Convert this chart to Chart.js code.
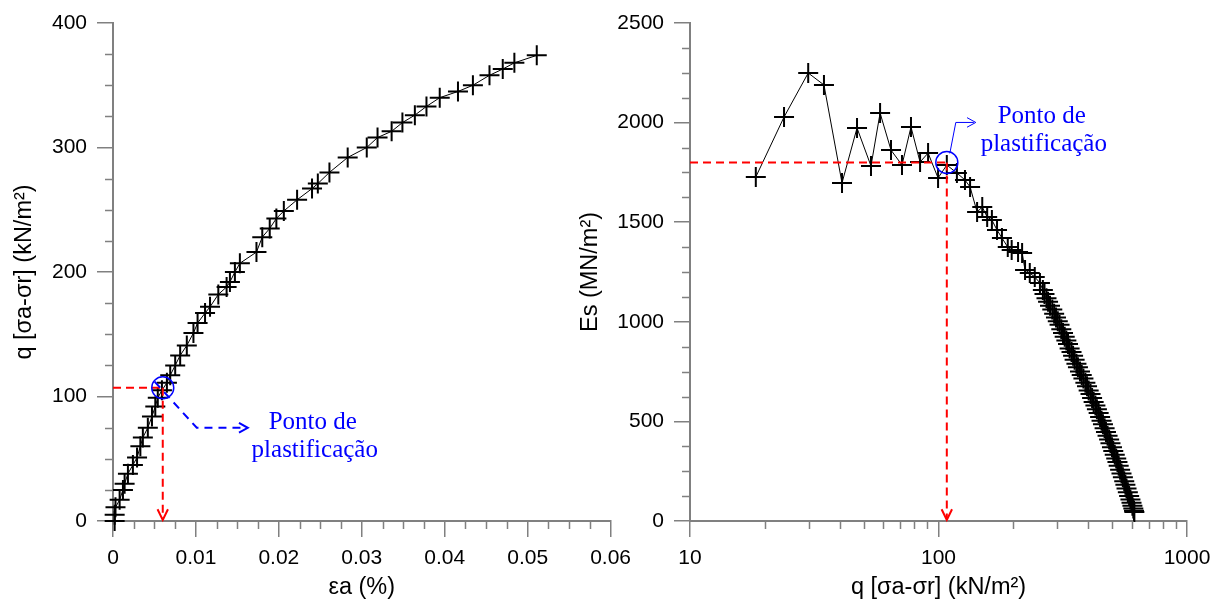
<!DOCTYPE html>
<html>
<head>
<meta charset="utf-8">
<script src="https://cdn.jsdelivr.net/npm/chart.js@4.4.1/dist/chart.umd.min.js"></script>
<style>
  html, body { margin: 0; padding: 0; background: #fff; }
  #wrap { position: relative; width: 1220px; height: 606px; overflow: hidden; }
  canvas { position: absolute; top: 0; }
  #graficoEsq { left: 0; }
  #graficoDir { left: 570px; }
</style>
</head>
<body>
<div id="wrap">
  <canvas id="graficoEsq" width="640" height="606"></canvas>
  <canvas id="graficoDir" width="650" height="606"></canvas>
</div>
<script>
// grafico da esquerda: q x deformacao axial
const epsA = [0.0002, 0.0002, 0.0003, 0.0008, 0.0012, 0.0014, 0.0018, 0.0024, 0.0029, 0.0033,
  0.0036, 0.0042, 0.0047, 0.0051, 0.0054, 0.0059, 0.0065, 0.0069, 0.0075, 0.0081,
  0.0089, 0.0097, 0.0102, 0.0111, 0.0117, 0.0127, 0.0137, 0.0141, 0.0147, 0.0153,
  0.0173, 0.018, 0.0189, 0.0197, 0.0206, 0.0222, 0.024, 0.0247, 0.0261, 0.0283,
  0.0306, 0.0319, 0.0336, 0.0349, 0.0364, 0.0378, 0.0394, 0.0416, 0.0434, 0.0454,
  0.047, 0.0484, 0.0511];
const qEsq = [0, 5, 11, 17, 25, 30, 38, 45, 51, 60,
  67, 75, 84, 92, 99, 105, 111, 117, 125, 133,
  141, 151, 159, 167, 172, 182, 188, 192, 200, 207,
  216, 228, 235, 243, 249, 258, 267, 271, 280, 292,
  300, 308, 313, 320, 326, 333, 340, 345, 350, 358,
  363, 368, 374];

// grafico da direita: Es x q (escala log)
const qDir = [18.4, 23.9, 29.9, 34.6, 40.9, 47.0, 53.5, 58.2, 64.4, 71.3,
  77.5, 84.3, 90.8, 99.6, 108, 118.6, 127.8, 134, 143, 150,
  157, 164, 172, 180, 190, 197, 209, 217, 223, 233,
  244, 256, 263, 267, 272, 276, 281, 287, 292, 297,
  302, 307, 312, 317, 322, 327, 332, 337, 343, 348,
  353, 359, 364, 371, 377, 383, 390, 396, 402, 409,
  415, 421, 428, 434, 441, 447, 453, 459, 466, 472,
  479, 486, 492, 499, 505, 512, 519, 525, 531, 538,
  545, 552, 559, 565, 571, 578, 585, 592, 598, 603,
  608, 612, 614];
const esDir = [1727, 2028, 2249, 2189, 1697, 1973, 1782, 2048, 1862, 1787,
  1978, 1802, 1847, 1722, 1787, 1747, 1712, 1677, 1551, 1576,
  1526, 1511, 1461, 1421, 1375, 1360, 1350, 1345, 1260, 1245,
  1225, 1195, 1160, 1140, 1118, 1101, 1080, 1062, 1041, 1022,
  1003, 985, 962, 944, 925, 906, 888, 866, 848, 829,
  810, 789, 772, 751, 733, 715, 694, 676, 655, 637,
  618, 598, 580, 561, 542, 522, 503, 486, 466, 447,
  428, 409, 390, 370, 352, 333, 314, 296, 277, 257,
  238, 220, 200, 182, 163, 144, 126, 108, 92, 76,
  63, 52, 45];

// ticks
const ticksXEsq = [0, 0.01, 0.02, 0.03, 0.04, 0.05, 0.06];
const ticksYEsq = [0, 100, 200, 300, 400];
const ticksXDir = [10, 100, 1000];
const ticksYDir = [0, 500, 1000, 1500, 2000, 2500];

// ponto de plastificacao
const plastEsq = { x: 0.006, y: 107 };
const plastDir = { x: 108, y: 1800 };

const FONTE = "'Liberation Sans', Arial, sans-serif";
const CINZA = "#808080";

function montarPontos(xs, ys) {
  return xs.map((x, i) => ({ x: x, y: ys[i] }));
}

function menoresX(passo, max) {
  const r = [];
  for (let v = passo; v < max - 1e-9; v += passo) r.push(v);
  return r;
}

// ticks menores desenhados a mao
const pluginTicksMenores = {
  id: "ticksMenores",
  afterDraw(chart, args, opts) {
    const ctx = chart.ctx;
    const xs = chart.scales.x, ys = chart.scales.y;
    const area = chart.chartArea;
    ctx.save();
    ctx.strokeStyle = CINZA;
    ctx.lineWidth = 1.5;
    ctx.beginPath();
    (opts.x || []).forEach((v) => {
      const p = Math.round(xs.getPixelForValue(v)) + 0.5;
      ctx.moveTo(p, area.bottom);
      ctx.lineTo(p, area.bottom + 8);
    });
    (opts.y || []).forEach((v) => {
      const p = Math.round(ys.getPixelForValue(v)) + 0.5;
      ctx.moveTo(area.left, p);
      ctx.lineTo(area.left - 8, p);
    });
    ctx.stroke();
    ctx.restore();
  },
};

function setaPonta(ctx, x, y, dx, dy, tam, abertura) {
  const ang = Math.atan2(dy, dx);
  ctx.beginPath();
  ctx.moveTo(x - tam * Math.cos(ang - abertura), y - tam * Math.sin(ang - abertura));
  ctx.lineTo(x, y);
  ctx.lineTo(x - tam * Math.cos(ang + abertura), y - tam * Math.sin(ang + abertura));
  ctx.stroke();
}

// linhas vermelhas, circulo azul e texto "Ponto de plastificacao"
const pluginPlastificacao = {
  id: "plastificacao",
  afterDatasetsDraw(chart, args, opts) {
    const ctx = chart.ctx;
    const area = chart.chartArea;
    const px = chart.scales.x.getPixelForValue(opts.ponto.x);
    const py = chart.scales.y.getPixelForValue(opts.ponto.y);
    ctx.save();

    // vermelho tracejado
    ctx.strokeStyle = "#ff0000";
    ctx.lineWidth = 2;
    ctx.setLineDash([8, 5]);
    ctx.beginPath();
    ctx.moveTo(area.left, py);
    ctx.lineTo(px, py);
    ctx.moveTo(px, py);
    ctx.lineTo(px, area.bottom - 2);
    ctx.stroke();
    ctx.setLineDash([]);
    setaPonta(ctx, px, area.bottom - 1, 0, 1, 12, 0.45);

    // circulo azul
    ctx.strokeStyle = "#0000ff";
    ctx.lineWidth = 1.5;
    ctx.beginPath();
    ctx.arc(px, py, 11, 0, Math.PI * 2);
    ctx.stroke();

    // seta azul
    const c = opts.caminho;
    ctx.lineWidth = opts.tracejado ? 2 : 1;
    ctx.setLineDash(opts.tracejado ? [8, 6] : []);
    ctx.beginPath();
    ctx.moveTo(px + c[0][0], py + c[0][1]);
    for (let i = 1; i < c.length; i++) ctx.lineTo(px + c[i][0], py + c[i][1]);
    ctx.stroke();
    ctx.setLineDash([]);
    const u = c[c.length - 1];
    setaPonta(ctx, px + u[0] + 2, py + u[1], 1, 0, 10, 0.5);

    // texto
    ctx.fillStyle = "#0000ff";
    ctx.font = "25px 'Liberation Serif', 'Times New Roman', serif";
    ctx.textAlign = "center";
    ctx.textBaseline = "alphabetic";
    ctx.fillText("Ponto de", px + opts.texto[0], py + opts.texto[1]);
    ctx.fillText("plastificação", px + opts.texto[0] + 2, py + opts.texto[2]);
    ctx.restore();
  },
};

function eixo(tipo, min, max, ticks, titulo, largura, altura, padTitulo) {
  const ehX = largura == null;
  return {
    type: tipo,
    min: min,
    max: max,
    afterBuildTicks: (s) => {
      s.ticks = ticks.map((v) => ({ value: v }));
    },
    afterFit: (s) => {
      if (ehX) s.height = altura;
      else s.width = largura;
    },
    grid: { drawOnChartArea: false, drawTicks: true, tickLength: 16, color: CINZA, lineWidth: 1.5 },
    border: { display: true, color: CINZA, width: 2 },
    ticks: {
      color: "#000",
      font: { family: FONTE, size: 21 },
      padding: ehX ? 9 : 10,
      maxRotation: 0,
      autoSkip: false,
      callback: (v) => String(Number(Number(v).toFixed(4))),
    },
    title: {
      display: true,
      text: titulo,
      color: "#000",
      font: { family: FONTE, size: 23.5 },
      padding: padTitulo,
    },
  };
}

function criarGrafico(id, pontos, escalas, padding, menores, anotacao) {
  const ctx = document.getElementById(id).getContext("2d");
  return new Chart(ctx, {
    type: "scatter",
    data: {
      datasets: [
        {
          data: pontos,
          showLine: true,
          borderColor: "#000",
          borderWidth: 1,
          pointStyle: "cross",
          pointRadius: 10,
          pointBorderWidth: 2,
          pointBorderColor: "#000",
          pointBackgroundColor: "#000",
          clip: false,
        },
      ],
    },
    options: {
      responsive: false,
      animation: false,
      layout: { padding: padding },
      plugins: {
        legend: { display: false },
        tooltip: { enabled: false },
        ticksMenores: menores,
        plastificacao: anotacao,
      },
      scales: escalas,
    },
    plugins: [pluginTicksMenores, pluginPlastificacao],
  });
}

criarGrafico(
  "graficoEsq",
  montarPontos(epsA, qEsq),
  {
    x: eixo("linear", 0, 0.06, ticksXEsq, "εa (%)", null, 85, { top: 0, bottom: 4 }),
    y: eixo("linear", 0, 400, ticksYEsq, "q [σa-σr] (kN/m²)", 113, null, { top: 10, bottom: 0 }),
  },
  { top: 23, right: 28, bottom: 0, left: 0 },
  { x: menoresX(0.0025, 0.06).filter((v) => Math.abs(v / 0.01 - Math.round(v / 0.01)) > 1e-6), y: [25, 50, 75, 125, 150, 175, 225, 250, 275, 325, 350, 375] },
  { ponto: plastEsq, tracejado: true, caminho: [[-8, -6], [34, 40], [83, 40]], texto: [150, 41, 69] }
);

criarGrafico(
  "graficoDir",
  montarPontos(qDir, esDir),
  {
    x: eixo("logarithmic", 10, 1000, ticksXDir, "q [σa-σr] (kN/m²)", null, 85, { top: 0, bottom: 4 }),
    y: eixo("linear", 0, 2500, ticksYDir, "Es (MN/m²)", 120, null, { top: 6, bottom: 0 }),
  },
  { top: 23, right: 33, bottom: 0, left: 0 },
  { x: [20, 30, 40, 50, 60, 70, 80, 90, 200, 300, 400, 500, 600, 700, 800, 900], y: [125, 250, 375, 625, 750, 875, 1125, 1250, 1375, 1625, 1750, 1875, 2125, 2250, 2375] },
  { ponto: plastDir, tracejado: false, caminho: [[3, -9], [9, -40], [27, -40]], texto: [95, -39, -11] }
);
</script>
</body>
</html>
